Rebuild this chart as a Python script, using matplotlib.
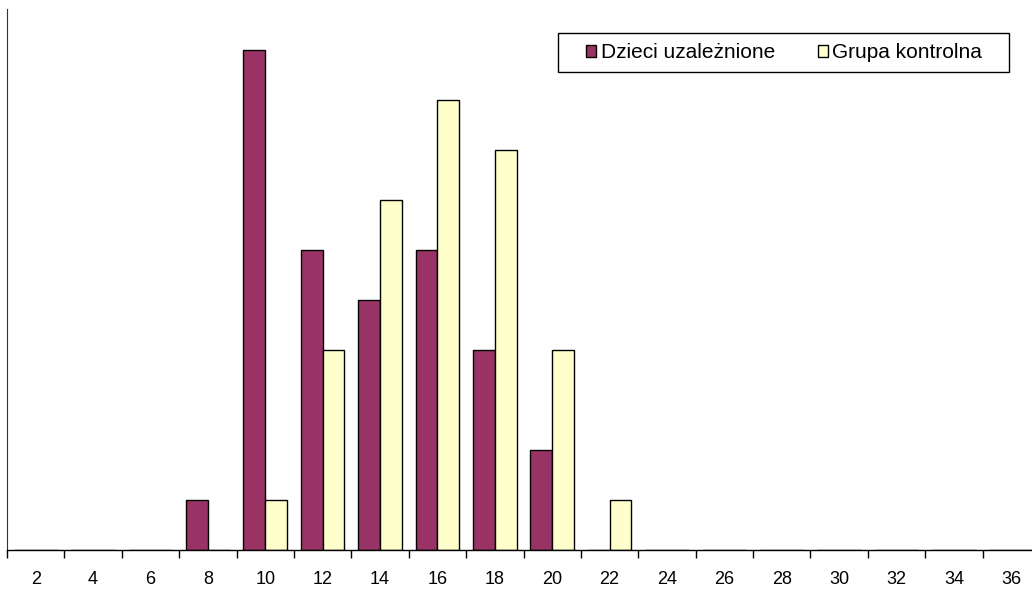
import numpy as np
import matplotlib.pyplot as plt
from matplotlib.patches import Rectangle

plt.rcParams['font.family'] = ['Liberation Sans', 'DejaVu Sans']

# categories on the x axis
categories = [2, 4, 6, 8, 10, 12, 14, 16, 18, 20, 22, 24, 26, 28, 30, 32, 34, 36]
# counts per category
dzieci = [0, 0, 0, 1, 10, 6, 5, 6, 4, 2, 0, 0, 0, 0, 0, 0, 0, 0]
kontrolna = [0, 0, 0, 0, 1, 4, 7, 9, 8, 4, 1, 0, 0, 0, 0, 0, 0, 0]

W, H = 1032, 592
fig = plt.figure(figsize=(W/100, H/100), dpi=100)
# axis runs a bit past the right edge, like the original
ax = fig.add_axes([7/W, 42/H, 1033/W, 541/H])

x = np.arange(len(categories))
w = 0.38
ax.bar(x - w/2, dzieci, w, color='#993366', edgecolor='black', linewidth=1,
       label='Dzieci uzależnione')
ax.bar(x + w/2, kontrolna, w, color='#FFFFCC', edgecolor='black', linewidth=1,
       label='Grupa kontrolna')

ax.set_xlim(-0.5, len(categories) - 0.5)
ax.set_ylim(0, 10.82)

# ticks at category boundaries, labels in the middle
ax.set_xticks(np.arange(len(categories) + 1) - 0.5)
ax.set_xticklabels([])
ax.set_xticks(x, minor=True)
ax.set_xticklabels([str(c) for c in categories], minor=True, fontsize=13)
ax.tick_params(axis='x', which='major', direction='out', length=6, width=1, color='black')
ax.tick_params(axis='x', which='minor', length=0, pad=15)
ax.set_yticks([])

for s in ['top', 'right']:
    ax.spines[s].set_visible(False)
ax.spines['left'].set_color('#333333')
ax.spines['bottom'].set_linewidth(1)

# legend frame drawn by hand so the padding matches
fig.patches.append(Rectangle((558/W, 1 - 72/H), 451/W, 39/H, transform=fig.transFigure,
                             facecolor='white', edgecolor='black', linewidth=1, zorder=2))
leg = fig.legend(loc='center left', bbox_to_anchor=(586/W, 1 - 53/H), ncol=2,
                 fontsize=15, frameon=False,
                 handlelength=0.5, handleheight=0.55, handletextpad=0.2,
                 columnspacing=2.05, borderpad=0, borderaxespad=0)
leg.set_zorder(3)

fig.savefig('out.png', dpi=100)
